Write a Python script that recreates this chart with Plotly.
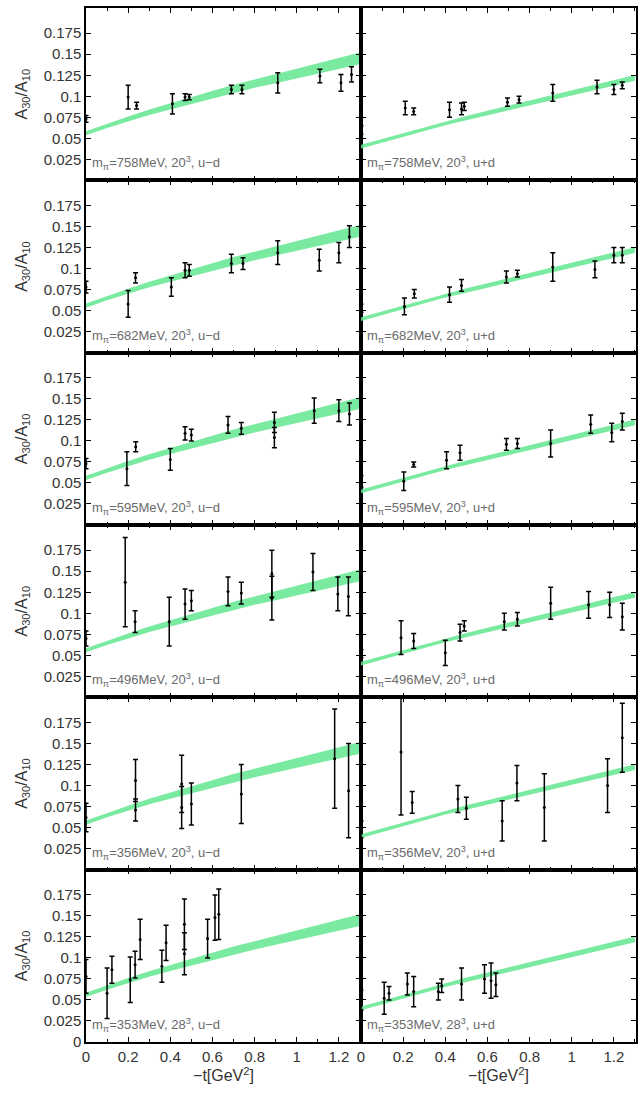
import plotly.graph_objects as go
from plotly.subplots import make_subplots

# ---------------- data ----------------
masses = ["758", "682", "595", "496", "356", "353"]
volumes = ["20", "20", "20", "20", "20", "28"]
flavors = ["u−d", "u+d"]

x_tick_vals = [0, 0.2, 0.4, 0.6, 0.8, 1.0, 1.2]
x_tick_text = ["0", "0.2", "0.4", "0.6", "0.8", "1", "1.2"]
x_minor_vals = [0.1, 0.3, 0.5, 0.7, 0.9, 1.1, 1.3]
y_tick_vals = [0, 0.025, 0.05, 0.075, 0.1, 0.125, 0.15, 0.175]
y_tick_text = ["0", "0.025", "0.05", "0.075", "0.1", "0.125", "0.15", "0.175"]

# fit bands
band_t = [0.0, 0.1, 0.2, 0.3, 0.4, 0.5, 0.6, 0.7, 0.8, 0.9, 1.0, 1.1, 1.2, 1.3]
band_ud_mid = [0.056, 0.065, 0.073, 0.081, 0.088, 0.095, 0.102, 0.109, 0.115, 0.121, 0.127, 0.133, 0.139, 0.145]
band_ud_half = [0.0025, 0.0027, 0.003, 0.0033, 0.0036, 0.004, 0.0043, 0.0047, 0.005, 0.0054, 0.0058, 0.0062, 0.0066, 0.007]
band_upd_mid = [0.040, 0.047, 0.054, 0.061, 0.068, 0.074, 0.080, 0.086, 0.092, 0.098, 0.104, 0.110, 0.116, 0.122]
band_upd_half = [0.0022, 0.0022, 0.0023, 0.0024, 0.0025, 0.0026, 0.0027, 0.0028, 0.0029, 0.003, 0.0031, 0.0032, 0.0033, 0.0034]

# m_pi = 758 MeV
t_758_ud = [0, 0.20, 0.24, 0.41, 0.47, 0.49, 0.69, 0.74, 0.91, 1.11, 1.21, 1.26]
v_758_ud = [0.073, 0.099, 0.089, 0.091, 0.099, 0.099, 0.108, 0.108, 0.116, 0.124, 0.116, 0.126]
e_758_ud = [0.004, 0.014, 0.004, 0.012, 0.004, 0.003, 0.005, 0.005, 0.012, 0.008, 0.010, 0.009]
t_758_upd = [0, 0.21, 0.25, 0.42, 0.477, 0.49, 0.695, 0.75, 0.91, 1.12, 1.20, 1.24]
v_758_upd = [0.060, 0.086, 0.082, 0.084, 0.085, 0.088, 0.093, 0.096, 0.104, 0.111, 0.108, 0.113]
e_758_upd = [0.005, 0.008, 0.004, 0.009, 0.007, 0.005, 0.005, 0.004, 0.010, 0.008, 0.006, 0.004]

# m_pi = 682 MeV
t_682_ud = [0, 0.20, 0.235, 0.405, 0.47, 0.49, 0.69, 0.745, 0.91, 1.107, 1.20, 1.25]
v_682_ud = [0.078, 0.058, 0.089, 0.078, 0.098, 0.098, 0.106, 0.106, 0.119, 0.110, 0.119, 0.138]
e_682_ud = [0.007, 0.016, 0.006, 0.011, 0.009, 0.007, 0.011, 0.007, 0.014, 0.013, 0.012, 0.013]
t_682_upd = [0, 0.206, 0.253, 0.42, 0.477, 0.69, 0.742, 0.91, 1.11, 1.20, 1.24]
v_682_upd = [0.053, 0.055, 0.070, 0.069, 0.080, 0.090, 0.094, 0.102, 0.099, 0.116, 0.116]
e_682_upd = [0.005, 0.010, 0.005, 0.009, 0.007, 0.007, 0.004, 0.017, 0.010, 0.009, 0.009]

# m_pi = 595 MeV
t_595_ud = [0, 0.194, 0.236, 0.40, 0.47, 0.50, 0.674, 0.737, 0.894, 0.894, 1.083, 1.20, 1.25]
v_595_ud = [0.073, 0.067, 0.093, 0.078, 0.109, 0.107, 0.119, 0.115, 0.122, 0.104, 0.136, 0.136, 0.132]
e_595_ud = [0.006, 0.020, 0.006, 0.013, 0.008, 0.007, 0.010, 0.007, 0.012, 0.012, 0.015, 0.013, 0.013]
t_595_upd = [0, 0.203, 0.25, 0.406, 0.47, 0.69, 0.742, 0.90, 1.09, 1.19, 1.24]
v_595_upd = [0.052, 0.052, 0.072, 0.077, 0.086, 0.096, 0.097, 0.097, 0.120, 0.110, 0.123]
e_595_upd = [0.007, 0.011, 0.003, 0.010, 0.009, 0.007, 0.006, 0.016, 0.011, 0.011, 0.010]

# m_pi = 496 MeV
t_496_ud = [0, 0.186, 0.233, 0.395, 0.47, 0.50, 0.674, 0.737, 0.882, 0.882, 1.077, 1.195, 1.245]
v_496_ud = [0.070, 0.137, 0.090, 0.090, 0.111, 0.115, 0.126, 0.124, 0.147, 0.118, 0.149, 0.123, 0.120]
e_496_ud = [0.009, 0.053, 0.013, 0.029, 0.018, 0.012, 0.017, 0.013, 0.028, 0.026, 0.022, 0.020, 0.023]
t_496_upd = [0, 0.19, 0.25, 0.40, 0.47, 0.49, 0.68, 0.742, 0.90, 1.08, 1.18, 1.24]
v_496_upd = [0.052, 0.071, 0.067, 0.053, 0.077, 0.085, 0.090, 0.093, 0.112, 0.110, 0.110, 0.096]
e_496_upd = [0.005, 0.020, 0.009, 0.015, 0.010, 0.006, 0.010, 0.008, 0.019, 0.016, 0.015, 0.016]

# m_pi = 356 MeV
t_356_ud = [0, 0.235, 0.235, 0.454, 0.454, 0.50, 0.737, 1.18, 1.246]
v_356_ud = [0.062, 0.106, 0.071, 0.102, 0.074, 0.078, 0.090, 0.132, 0.094]
e_356_ud = [0.017, 0.025, 0.013, 0.034, 0.025, 0.025, 0.035, 0.059, 0.056]
t_356_upd = [0, 0.19, 0.243, 0.46, 0.50, 0.67, 0.74, 0.87, 1.17, 1.24]
v_356_upd = [0.048, 0.140, 0.080, 0.084, 0.073, 0.058, 0.103, 0.074, 0.100, 0.157]
e_356_upd = [0.010, 0.075, 0.013, 0.016, 0.013, 0.024, 0.021, 0.040, 0.032, 0.041]

# m_pi = 353 MeV (28^3)
t_353_ud = [0, 0.10, 0.123, 0.21, 0.233, 0.257, 0.36, 0.38, 0.467, 0.467, 0.577, 0.612, 0.63]
v_353_ud = [0.078, 0.058, 0.086, 0.074, 0.092, 0.122, 0.090, 0.118, 0.140, 0.105, 0.123, 0.148, 0.152]
e_353_ud = [0.020, 0.030, 0.016, 0.027, 0.016, 0.024, 0.019, 0.021, 0.030, 0.025, 0.023, 0.027, 0.030]
t_353_upd = [0, 0.11, 0.133, 0.22, 0.25, 0.367, 0.383, 0.477, 0.586, 0.617, 0.64]
v_353_upd = [0.050, 0.052, 0.058, 0.069, 0.060, 0.060, 0.067, 0.069, 0.075, 0.073, 0.068]
e_353_upd = [0.012, 0.019, 0.008, 0.013, 0.018, 0.010, 0.008, 0.019, 0.017, 0.021, 0.014]

panels = [
    [(t_758_ud, v_758_ud, e_758_ud), (t_758_upd, v_758_upd, e_758_upd)],
    [(t_682_ud, v_682_ud, e_682_ud), (t_682_upd, v_682_upd, e_682_upd)],
    [(t_595_ud, v_595_ud, e_595_ud), (t_595_upd, v_595_upd, e_595_upd)],
    [(t_496_ud, v_496_ud, e_496_ud), (t_496_upd, v_496_upd, e_496_upd)],
    [(t_356_ud, v_356_ud, e_356_ud), (t_356_upd, v_356_upd, e_356_upd)],
    [(t_353_ud, v_353_ud, e_353_ud), (t_353_upd, v_353_upd, e_353_upd)],
]
bands = [(band_ud_mid, band_ud_half), (band_upd_mid, band_upd_half)]

# ---------------- figure ----------------
FONT = "Liberation Sans"
BAND_COLOR = "rgba(100,230,145,0.85)"

fig = make_subplots(rows=6, cols=2, horizontal_spacing=0, vertical_spacing=0)

for r in range(6):
    for c in range(2):
        idx = r * 2 + c + 1
        suffix = "" if idx == 1 else str(idx)
        mid, half = bands[c]
        upper = [m + h for m, h in zip(mid, half)]
        lower = [m - h for m, h in zip(mid, half)]
        fig.add_trace(go.Scatter(x=band_t, y=upper, mode="lines", line=dict(width=0, color=BAND_COLOR),
                                 showlegend=False, hoverinfo="skip"), row=r + 1, col=c + 1)
        fig.add_trace(go.Scatter(x=band_t, y=lower, mode="lines", line=dict(width=0, color=BAND_COLOR),
                                 fill="tonexty", fillcolor=BAND_COLOR, showlegend=False, hoverinfo="skip"),
                      row=r + 1, col=c + 1)
        t, v, e = panels[r][c]
        fig.add_trace(go.Scatter(x=t, y=v, mode="markers",
                                 marker=dict(size=3, color="black"),
                                 error_y=dict(type="data", array=e, color="black", thickness=1.5, width=2.5),
                                 showlegend=False), row=r + 1, col=c + 1)
        fig.add_annotation(
            text=f"m<sub>π</sub>={masses[r]}MeV, {volumes[r]}<sup>3</sup>, {flavors[c]}",
            xref=f"x{suffix} domain", yref=f"y{suffix} domain",
            x=0.015, y=0.035, xanchor="left", yanchor="bottom", showarrow=False,
            font=dict(family=FONT, size=13, color="#6a6a6a"))

        bottom = (r == 5)
        xaxis_kw = dict(
            range=[0, 1.305], tickvals=x_tick_vals, ticktext=x_tick_text,
            showticklabels=bottom, ticks="inside", ticklen=5, tickwidth=1.3, tickcolor="black",
            minor=dict(tickvals=x_minor_vals, ticks="inside", ticklen=3, tickwidth=1.1, tickcolor="black"),
            showline=True, linewidth=1.5, linecolor="black", mirror="ticks",
            showgrid=False, zeroline=False,
            tickfont=dict(family=FONT, size=15, color="#333333"))
        if bottom:
            xaxis_kw["title"] = dict(text="−t[GeV<sup>2</sup>]",
                                     font=dict(family=FONT, size=16, color="#333333"), standoff=4)
        fig.update_xaxes(**xaxis_kw, row=r + 1, col=c + 1)

        yv = list(y_tick_vals) if bottom else y_tick_vals[1:]
        yt = list(y_tick_text) if bottom else y_tick_text[1:]
        yaxis_kw = dict(
            range=[0, 0.205], tickvals=yv, ticktext=yt,
            showticklabels=(c == 0), ticks="inside", ticklen=5, tickwidth=1.3, tickcolor="black",
            showline=True, linewidth=1.5, linecolor="black", mirror="ticks",
            showgrid=False, zeroline=False,
            tickfont=dict(family=FONT, size=15, color="#333333"))
        if c == 0:
            yaxis_kw["title"] = dict(text="A<sub>30</sub>/A<sub>10</sub>",
                                     font=dict(family=FONT, size=16, color="#333333"), standoff=12)
        fig.update_yaxes(**yaxis_kw, row=r + 1, col=c + 1)

fig.update_layout(
    width=639, height=1093,
    margin=dict(l=86, r=1, t=8, b=51),
    paper_bgcolor="white", plot_bgcolor="white",
    showlegend=False,
)

fig.write_html("out.html")
